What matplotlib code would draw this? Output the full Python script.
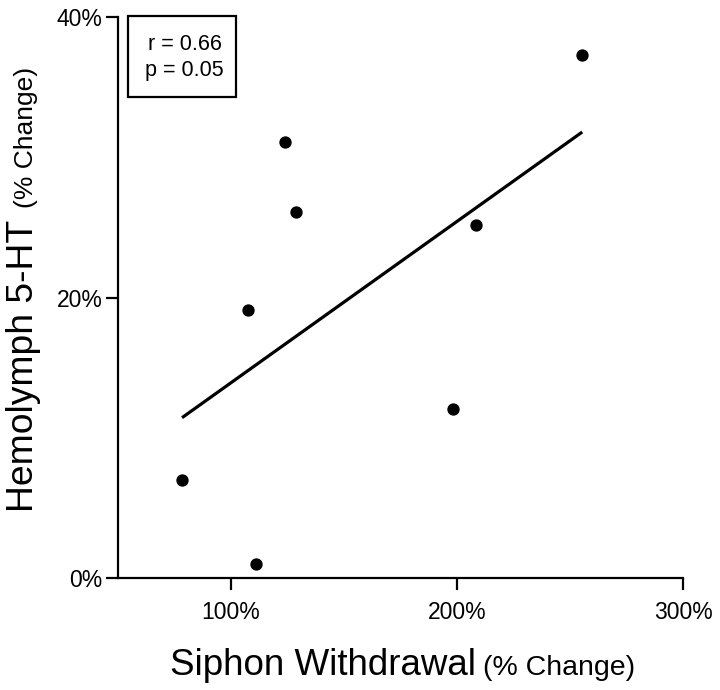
import numpy as np
import matplotlib
matplotlib.use("Agg")
import matplotlib.pyplot as plt
from matplotlib.patches import Rectangle

plt.rcParams['font.family'] = ['Liberation Sans', 'DejaVu Sans']

# siphon withdrawal (% change) vs hemolymph 5-HT (% change)
siphon = np.array([78.3, 111.0, 107.5, 123.9, 128.8, 198.2, 208.4, 255.3])
serotonin = np.array([7.0, 1.0, 19.1, 31.1, 26.1, 12.1, 25.2, 37.3])
x_ticks = [100, 200, 300]
y_ticks = [0, 20, 40]
stats_text = "r = 0.66\np = 0.05"

fig = plt.figure(figsize=(7.2, 6.9), dpi=100)
ax = fig.add_axes([0.164, 0.162, 0.785, 0.813])

ax.scatter(siphon, serotonin, s=62, color='black', zorder=3)

# least squares line over the data range
slope, intercept = np.polyfit(siphon, serotonin, 1)
xfit = np.array([siphon.min(), siphon.max()])
ax.plot(xfit, slope * xfit + intercept, color='black', linewidth=2.3,
        solid_capstyle='butt')

ax.set_xlim(50, 300)
ax.set_ylim(0, 40)
ax.set_xticks(x_ticks)
ax.set_yticks(y_ticks)
ax.set_xticklabels([f'{t}%' for t in x_ticks])
ax.set_yticklabels([f'{t}%' for t in y_ticks])

for side in ['top', 'right']:
    ax.spines[side].set_visible(False)
for side in ['left', 'bottom']:
    ax.spines[side].set_linewidth(1.6)
ax.tick_params(axis='both', direction='out', length=8.5, width=1.6,
               labelsize=16.5, colors='black')
ax.tick_params(axis='x', pad=8)
ax.tick_params(axis='y', pad=2.5)

# stats box in the top left corner
ax.add_patch(Rectangle((0.018, 0.857), 0.191, 0.145, transform=ax.transAxes,
                       fill=False, edgecolor='black', linewidth=1.6,
                       clip_on=False))
lines = stats_text.split('\n')
ax.text(0.118, 0.941, lines[0], transform=ax.transAxes, ha='center',
        va='baseline', fontsize=15.5)
ax.text(0.118, 0.896, lines[1], transform=ax.transAxes, ha='center',
        va='baseline', fontsize=15.5)

# axis labels with a smaller "(% Change)" part
fig.canvas.draw()
renderer = fig.canvas.get_renderer()

xl_main = fig.text(170 / 720, 1 - 675 / 690, 'Siphon Withdrawal',
                   ha='left', va='baseline', fontsize=26.5)
bb = xl_main.get_window_extent(renderer)
fig.text(bb.x1 / 720 + 7 / 720, 1 - 675 / 690, '(% Change)',
         ha='left', va='baseline', fontsize=20.5)

yl_main = fig.text(33 / 720, 1 - 512 / 690, 'Hemolymph 5-HT', rotation=90,
                   rotation_mode='anchor', ha='left', va='baseline',
                   fontsize=26.8)
bb = yl_main.get_window_extent(renderer)
fig.text(33 / 720, bb.y1 / 690 + 12 / 690, '(% Change)', rotation=90,
         rotation_mode='anchor', ha='left', va='baseline', fontsize=19)

fig.savefig('out.png', dpi=100)
